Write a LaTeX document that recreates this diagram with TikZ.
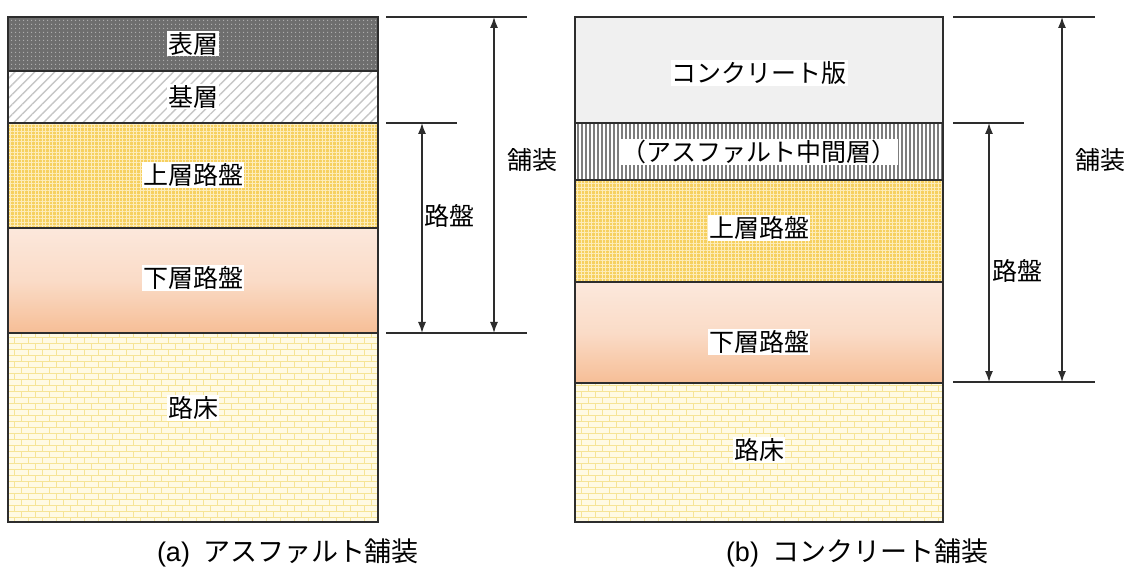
\documentclass[tikz,border=0pt]{standalone}
\usepackage{fontspec}
\setmainfont{Liberation Sans}
\newfontfamily\jp{Noto Sans CJK JP}
\usetikzlibrary{patterns,patterns.meta,arrows.meta}
\pgfdeclarepatternformonly{mybricks}{\pgfqpoint{-1pt}{-1pt}}{\pgfqpoint{15pt}{13pt}}{\pgfqpoint{14pt}{12pt}}{%
  \pgfsetlinewidth{1pt}%
  \pgfpathmoveto{\pgfqpoint{0pt}{0pt}}\pgfpathlineto{\pgfqpoint{14pt}{0pt}}%
  \pgfpathmoveto{\pgfqpoint{0pt}{6pt}}\pgfpathlineto{\pgfqpoint{14pt}{6pt}}%
  \pgfpathmoveto{\pgfqpoint{0pt}{0pt}}\pgfpathlineto{\pgfqpoint{0pt}{6pt}}%
  \pgfpathmoveto{\pgfqpoint{7pt}{6pt}}\pgfpathlineto{\pgfqpoint{7pt}{12pt}}%
  \pgfusepath{stroke}}
\definecolor{surf}{RGB}{110,110,110}
\definecolor{surfdot}{RGB}{180,180,180}
\definecolor{ubase}{RGB}{246,208,95}
\definecolor{ubaseline}{RGB}{253,236,185}
\definecolor{ltop}{RGB}{252,232,220}
\definecolor{lbot}{RGB}{246,190,150}
\definecolor{sub}{RGB}{255,250,228}
\definecolor{subline}{RGB}{246,228,150}
\definecolor{slab}{RGB}{240,240,240}
\definecolor{edge}{RGB}{45,45,45}
\definecolor{vline}{RGB}{125,125,125}
\tikzset{
  layer/.style={draw=edge,line width=1.3pt},
  lbl/.style={font=\jp\fontsize{25}{29}\selectfont,fill=white,inner sep=1pt},
  dimline/.style={line width=1.3pt,draw=edge},
  dimarrow/.style={line width=1.3pt,draw=edge,{Latex[length=11pt,width=8pt]}-{Latex[length=11pt,width=8pt]}},
  dimlbl/.style={font=\jp\fontsize{25}{29}\selectfont},
  captext/.style={font=\fontsize{27}{31}\selectfont}
}
\begin{document}
\begin{tikzpicture}[x=1pt,y=-1pt]
\useasboundingbox (0,0) rectangle (1128,572);
% ---------- (a) asphalt ----------
\fill[surf] (8,17) rectangle (378,71);
\fill[pattern={Dots[distance=4pt,radius=0.8pt]},pattern color=surfdot] (8,17) rectangle (378,71);
\fill[white] (8,71) rectangle (378,123);
\fill[pattern={Lines[angle=45,distance=7pt,line width=1.4pt]},pattern color=gray!45] (8,71) rectangle (378,123);
\fill[ubase] (8,123) rectangle (378,228);
\fill[pattern={Hatch[distance=3.5pt,line width=0.9pt]},pattern color=ubaseline] (8,123) rectangle (378,228);
\shade[top color=ltop,bottom color=lbot,middle color=ltop!70!lbot] (8,228) rectangle (378,333);
\fill[sub] (8,333) rectangle (378,522);
\fill[pattern=mybricks,pattern color=subline] (8,333) rectangle (378,522);
\draw[layer] (8,17) rectangle (378,522);
\draw[layer] (8,71) -- (378,71) (8,123) -- (378,123) (8,228) -- (378,228) (8,333) -- (378,333);
\node[lbl] (a1) at (193,44) {表層};
\node[lbl] (a2) at (193,97) {基層};
\node[lbl] (a3) at (193,175) {上層路盤};
\node[lbl] (a4) at (193,278) {下層路盤};
\node[lbl] (a5) at (193,408) {路床};
% dimensions (a)
\coordinate (at1) at (386,17);  \coordinate (at2) at (527,17);
\coordinate (am1) at (386,123); \coordinate (am2) at (457,123);
\coordinate (ab1) at (386,333); \coordinate (ab2) at (527,333);
\draw[dimline] (at1) -- (at2);
\draw[dimline] (am1) -- (am2);
\draw[dimline] (ab1) -- (ab2);
\coordinate (ar1) at (422,123); \coordinate (ar2) at (422,333);
\coordinate (ap1) at (494,17);  \coordinate (ap2) at (494,333);
\draw[dimarrow] (ar1) -- (ar2);
\draw[dimarrow] (ap1) -- (ap2);
\node[dimlbl] (aroban) at (449,216) {路盤};
\node[dimlbl] (ahoso) at (532,160) {舗装};
\node[captext] (acap) at (288,553) {(a)\hspace{13pt}{\jp アスファルト舗装}};
% ---------- (b) concrete ----------
\fill[slab] (575,17) rectangle (943,123);
\fill[white] (575,123) rectangle (943,180);
\foreach \xx in {578,582,...,942} \draw[vline,line width=1.8pt] (\xx,123) -- (\xx,180);
\fill[ubase] (575,180) rectangle (943,282);
\fill[pattern={Hatch[distance=3.5pt,line width=0.9pt]},pattern color=ubaseline] (575,180) rectangle (943,282);
\shade[top color=ltop,bottom color=lbot,middle color=ltop!70!lbot] (575,282) rectangle (943,383);
\fill[sub] (575,383) rectangle (943,522);
\fill[pattern=mybricks,pattern color=subline] (575,383) rectangle (943,522);
\draw[layer] (575,17) rectangle (943,522);
\draw[layer] (575,123) -- (943,123) (575,180) -- (943,180) (575,282) -- (943,282) (575,383) -- (943,383);
\node[lbl] (b1) at (759,73) {コンクリート版};
\node[lbl] (b2) at (759,152) {（アスファルト中間層）};
\node[lbl] (b3) at (759,228) {上層路盤};
\node[lbl] (b4) at (759,342) {下層路盤};
\node[lbl] (b5) at (759,450) {路床};
% dimensions (b)
\coordinate (bt1) at (953,17);  \coordinate (bt2) at (1095,17);
\coordinate (bm1) at (953,123); \coordinate (bm2) at (1024,123);
\coordinate (bb1) at (953,382); \coordinate (bb2) at (1095,382);
\draw[dimline] (bt1) -- (bt2);
\draw[dimline] (bm1) -- (bm2);
\draw[dimline] (bb1) -- (bb2);
\coordinate (br1) at (989,123); \coordinate (br2) at (989,382);
\coordinate (bp1) at (1062,17); \coordinate (bp2) at (1062,382);
\draw[dimarrow] (br1) -- (br2);
\draw[dimarrow] (bp1) -- (bp2);
\node[dimlbl] (broban) at (1017,271) {路盤};
\node[dimlbl] (bhoso) at (1100,160) {舗装};
\node[captext] (bcap) at (857,553) {(b)\hspace{13pt}{\jp コンクリート舗装}};
\end{tikzpicture}
\end{document}
